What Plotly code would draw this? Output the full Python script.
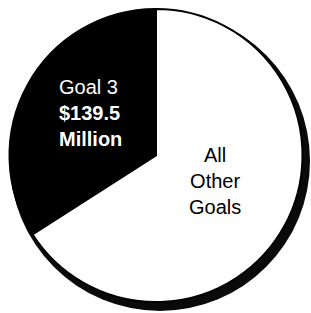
import plotly.graph_objects as go

W, H = 311, 313
labels = ["Goal 3", "All Other Goals"]
values = [139.5, 270.0]
colors = ["#000000", "#ffffff"]

CX, CY, R = 156, 155.5, 146.5

def dom(cx, cy, r):
    return dict(x=[(cx - r) / W, (cx + r) / W], y=[1 - (cy + r) / H, 1 - (cy - r) / H])

# Goal 3 slice ends at 12 o'clock, sweeping counterclockwise from there
rot = 360 - 360 * values[0] / sum(values)

fig = go.Figure()
fig.add_trace(go.Pie(values=values, labels=labels,
                     marker=dict(colors=colors, line=dict(color="#000000", width=2)),
                     textinfo="none", showlegend=False, sort=False, direction="clockwise",
                     rotation=rot, domain=dom(CX, CY, R)))

# drop shadow behind the pie
SX, SY, SR = 160, 161, 150
fig.add_shape(type="circle", xref="paper", yref="paper", layer="below",
              x0=(SX - SR) / W, x1=(SX + SR) / W,
              y0=1 - (SY + SR) / H, y1=1 - (SY - SR) / H,
              fillcolor="#0a0a0a", line=dict(width=0))

font = "Liberation Sans, Arial, Helvetica, sans-serif"
fig.add_annotation(x=57 / W, y=1 - 113 / H, xref="paper", yref="paper", showarrow=False,
                   xanchor="left", yanchor="middle",
                   text="Goal 3<br><b>$139.5</b><br><b>Million</b>", align="left",
                   font=dict(family=font, size=20, color="#ffffff"))
fig.add_annotation(x=215 / W, y=1 - 181 / H, xref="paper", yref="paper", showarrow=False,
                   xanchor="center", yanchor="middle",
                   text="All<br>Other<br>Goals", align="center",
                   font=dict(family=font, size=20, color="#000000"))

fig.update_layout(width=W, height=H, margin=dict(l=0, r=0, t=0, b=0),
                  paper_bgcolor="#ffffff", plot_bgcolor="#ffffff")
fig.write_html("out.html", config={"displayModeBar": False},
               post_script="document.body.style.margin='0';")
